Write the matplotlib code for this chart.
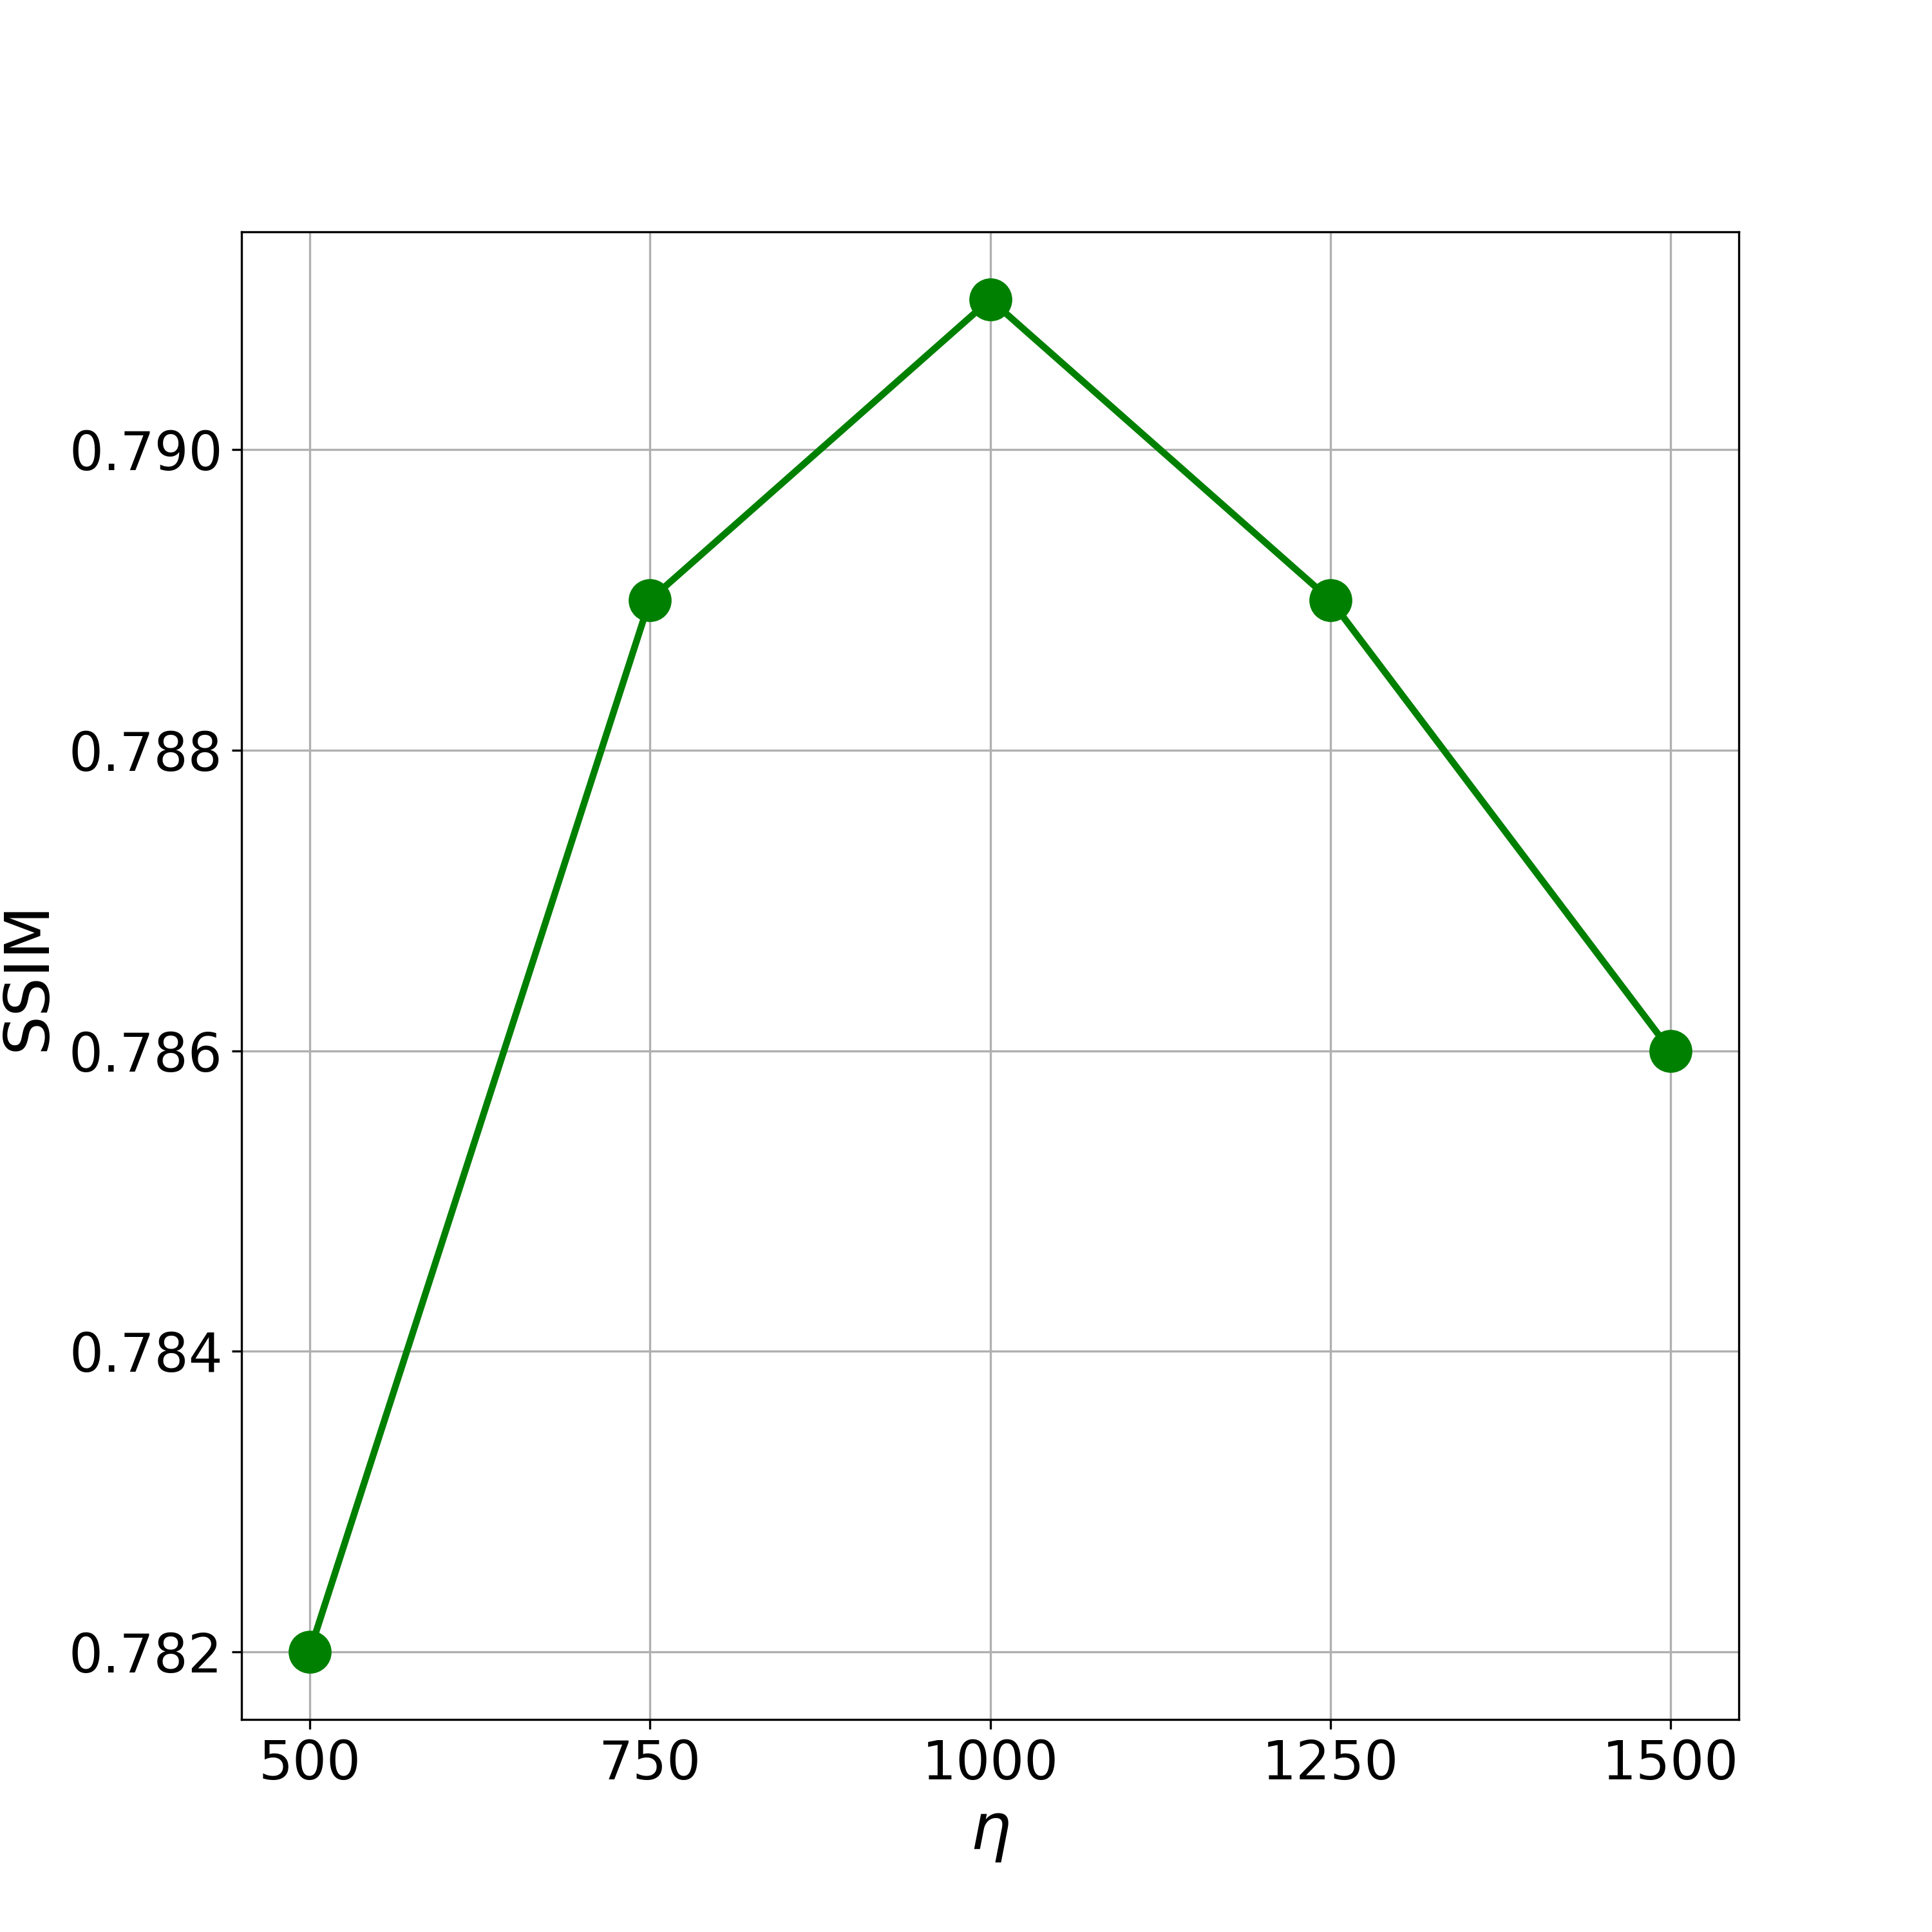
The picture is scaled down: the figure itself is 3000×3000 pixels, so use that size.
import matplotlib
matplotlib.use("Agg")
import matplotlib.pyplot as plt

eta = [500, 750, 1000, 1250, 1500]
ssim = [0.782, 0.789, 0.791, 0.789, 0.786]

fig, ax = plt.subplots(figsize=(10, 10), dpi=300)
ax.plot(eta, ssim, color="green", linewidth=2.5, marker="o", markersize=15)
ax.set_xticks(eta)
ax.set_yticks([0.782, 0.784, 0.786, 0.788, 0.790])
ax.tick_params(labelsize=20)
ax.set_xlabel(r"$\eta$", fontsize=24)
ax.set_ylabel("SSIM", fontsize=23)
ax.grid(True)
fig.savefig("out.png", dpi=300)
